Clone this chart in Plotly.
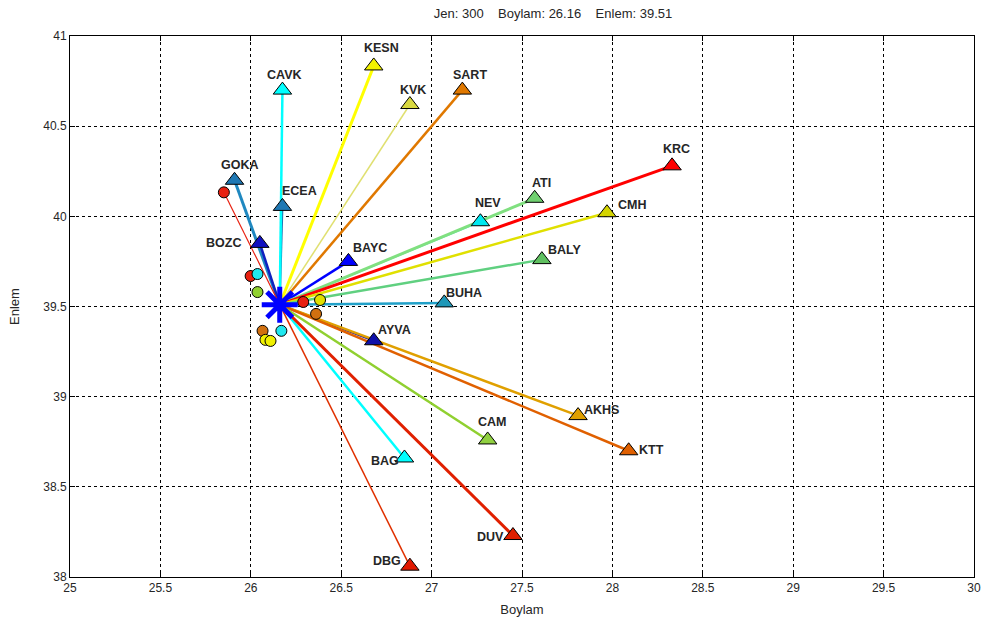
import plotly.graph_objects as go

# ---------------- data ----------------
epi_lon = 26.16
epi_lat = 39.51
title_text = "Jen: 300    Boylam: 26.16    Enlem: 39.51"

stations = ["KESN", "CAVK", "KVK", "SART", "KRC", "GOKA", "ECEA", "ATI", "NEV", "CMH",
            "BOZC", "BAYC", "BALY", "BUHA", "AYVA", "AKHS", "CAM", "KTT", "BAG", "DUV", "DBG"]
st_lon = [26.68, 26.175, 26.88, 27.17, 28.33, 25.91, 26.175, 27.57, 27.27, 27.97,
          26.05, 26.54, 27.61, 27.07, 26.68, 27.81, 27.31, 28.09, 26.85, 27.45, 26.88]
st_lat = [40.834, 40.70, 40.62, 40.70, 40.28, 40.20, 40.055, 40.10, 39.97, 40.02,
          39.85, 39.75, 39.76, 39.52, 39.31, 38.895, 38.76, 38.70, 38.66, 38.23, 38.06]

# small circle markers near the epicentre
pt_lon = [25.851, 25.999, 26.037, 26.037, 26.065, 26.081, 26.109, 26.169, 26.29, 26.383, 26.361]
pt_lat = [40.133, 39.669, 39.680, 39.580, 39.365, 39.315, 39.309, 39.365, 39.525, 39.536, 39.459]

x_ticks = [25, 25.5, 26, 26.5, 27, 27.5, 28, 28.5, 29, 29.5, 30]
y_ticks = [38, 38.5, 39, 39.5, 40, 40.5, 41]

# ---------------- styles ----------------
tri_color = {"KESN": "#f2f200", "CAVK": "#00ffff", "KVK": "#d8d840", "SART": "#e07800",
             "KRC": "#ff0000", "GOKA": "#1f78b4", "ECEA": "#1f78b4", "ATI": "#70d070",
             "NEV": "#00e8f0", "CMH": "#d4d400", "BOZC": "#1010c0", "BAYC": "#0000ff",
             "BALY": "#60c060", "BUHA": "#1f98b8", "AYVA": "#1010a8", "AKHS": "#e0a000",
             "CAM": "#90d040", "KTT": "#e06000", "BAG": "#00ffff", "DUV": "#e02000",
             "DBG": "#e01800"}
line_color = {"KESN": "#ffff00", "CAVK": "#00ffff", "KVK": "#e0e070", "SART": "#e07800",
              "KRC": "#ff0000", "GOKA": "#1f88c0", "ECEA": "#1f78b4", "ATI": "#80e080",
              "NEV": "#40e8e0", "CMH": "#e0e000", "BOZC": "#1020c0", "BAYC": "#0000ff",
              "BALY": "#60d080", "BUHA": "#20a0c8", "AYVA": "#2020b0", "AKHS": "#e0a000",
              "CAM": "#90d030", "KTT": "#e06000", "BAG": "#00ffff", "DUV": "#e02000",
              "DBG": "#e03000"}
line_width = {"KESN": 3, "CAVK": 2.5, "KVK": 1.5, "SART": 2.5, "KRC": 3, "GOKA": 3,
              "ECEA": 2, "ATI": 3, "NEV": 1.5, "CMH": 2.5, "BOZC": 2.5, "BAYC": 2.5,
              "BALY": 2.5, "BUHA": 2.5, "AYVA": 2, "AKHS": 2.5, "CAM": 2.5, "KTT": 2.5,
              "BAG": 2.5, "DUV": 3, "DBG": 1.5}
label_shift = {"KESN": (8, 18), "CAVK": (2, 15), "KVK": (3, 15), "SART": (8, 15),
               "KRC": (4, 17), "GOKA": (5, 15), "ECEA": (17, 15), "ATI": (7, 15),
               "NEV": (8, 19), "CMH": (25, 8), "BOZC": (-36, 0), "BAYC": (22, 13),
               "BALY": (23, 10), "BUHA": (20, 10), "AYVA": (21, 11), "AKHS": (23, 6),
               "CAM": (4, 18), "KTT": (23, 1), "BAG": (-19, -3), "DUV": (-22, -1),
               "DBG": (-23, 5)}
pt_color = ["#e82010", "#e82010", "#20e8f0", "#90d030", "#d07010", "#f0f000",
            "#f0f000", "#20e8f0", "#e82010", "#e0e000", "#d07010"]
FONT = "Liberation Sans, Arial, sans-serif"

fig = go.Figure()

# lines epicentre -> stations
draw_order = ["NEV", "KVK", "DBG", "ECEA", "CAVK", "KESN", "SART", "GOKA", "BOZC", "BAYC",
              "ATI", "KRC", "CMH", "BALY", "BUHA", "AYVA", "AKHS", "KTT", "CAM", "BAG", "DUV"]
for s in draw_order:
    i = stations.index(s)
    fig.add_trace(go.Scatter(x=[epi_lon, st_lon[i]], y=[epi_lat, st_lat[i]], mode="lines",
                             line=dict(color=line_color[s], width=line_width[s]),
                             hoverinfo="skip", showlegend=False))

# thin line to the far red circle
fig.add_trace(go.Scatter(x=[epi_lon, pt_lon[0]], y=[epi_lat, pt_lat[0]], mode="lines",
                         line=dict(color="#e82010", width=1.2), hoverinfo="skip",
                         showlegend=False))

# circles
fig.add_trace(go.Scatter(x=pt_lon, y=pt_lat, mode="markers",
                         marker=dict(symbol="circle", size=11, color=pt_color,
                                     line=dict(color="black", width=1)),
                         hoverinfo="skip", showlegend=False))

# station triangles
fig.add_trace(go.Scatter(x=st_lon, y=st_lat, mode="markers",
                         marker=dict(symbol="triangle-up", size=16,
                                     color=[tri_color[s] for s in stations],
                                     line=dict(color="black", width=1)),
                         text=stations, hoverinfo="text", showlegend=False))

# epicentre star
fig.add_trace(go.Scatter(x=[epi_lon], y=[epi_lat], mode="markers",
                         marker=dict(symbol="asterisk-open", size=30, color="#0000ff",
                                     line=dict(color="#0000ff", width=5)),
                         hoverinfo="skip", showlegend=False))

# station labels
for i, s in enumerate(stations):
    dx, dy = label_shift[s]
    fig.add_annotation(x=st_lon[i], y=st_lat[i], text="<b>%s</b>" % s, showarrow=False,
                       xshift=dx, yshift=dy,
                       font=dict(family=FONT, size=12.5, color="#262626"))

axis_common = dict(showline=True, linecolor="black", linewidth=1, mirror="ticks",
                   ticks="inside", ticklen=5, tickcolor="black",
                   showgrid=True, gridcolor="black", gridwidth=1, griddash="3px,3px",
                   zeroline=False,
                   tickfont=dict(family=FONT, size=12, color="#262626"))

fig.update_layout(
    width=992, height=626,
    paper_bgcolor="white", plot_bgcolor="white",
    margin=dict(l=70, r=11, t=36, b=47),
    title=dict(text=title_text, x=553 / 992, xanchor="center", y=1 - 13 / 626,
               yanchor="middle", font=dict(family=FONT, size=13, color="#262626")),
    xaxis=dict(range=[25, 30], tickvals=x_ticks, ticktext=[f"{v:g}" for v in x_ticks],
               title=dict(text="Boylam", standoff=10,
                          font=dict(family=FONT, size=13, color="#262626")),
               **axis_common),
    yaxis=dict(range=[38, 41], tickvals=y_ticks, ticktext=[f"{v:g}" for v in y_ticks],
               title=dict(text="Enlem", standoff=20,
                          font=dict(family=FONT, size=13, color="#262626")),
               **axis_common),
)

fig.write_html("out.html")
